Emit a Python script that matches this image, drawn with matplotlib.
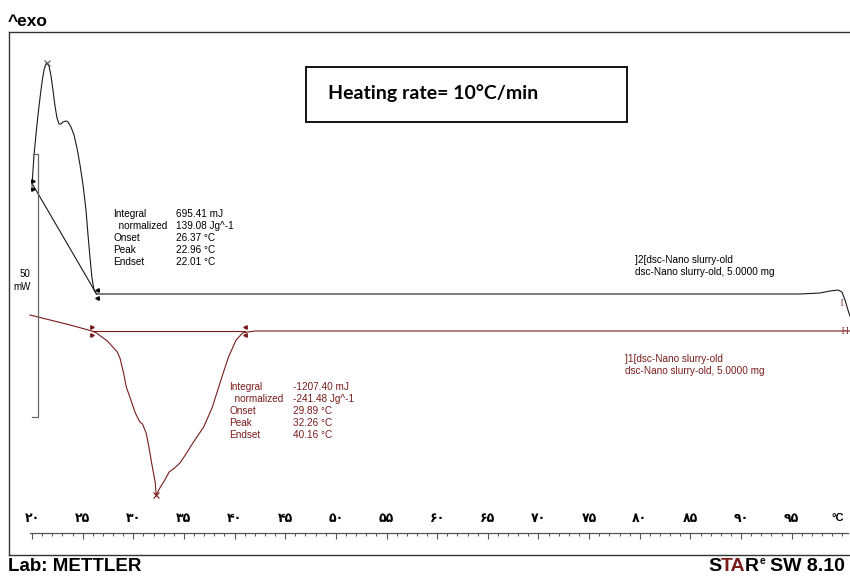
import matplotlib
matplotlib.use('Agg')
import matplotlib.pyplot as plt
from matplotlib.patches import Rectangle

# Curva 2 (negra): temperatura en °C y flujo de calor en mW
t_run2 = [20.00, 20.10, 20.20, 20.39, 20.59, 20.79, 20.99, 21.18, 21.38, 21.48,
          21.68, 21.88, 22.07, 22.27, 22.47, 22.67, 22.86, 23.06, 23.36, 23.55,
          23.85, 24.15, 24.44, 24.74, 25.04, 25.33, 25.53, 25.73, 25.92, 26.12,
          26.37, 95.81, 97.79, 98.78, 99.57, 99.96, 100.26, 100.55, 100.75]
hf_run2 = [27.67, 30.73, 33.59, 37.40, 41.22, 44.47, 47.52, 49.81, 50.95, 51.15,
           50.57, 48.66, 45.99, 42.94, 40.65, 39.50, 39.50, 39.89, 40.08, 39.89,
           38.93, 37.40, 34.92, 31.68, 27.86, 23.09, 18.32, 13.93, 10.11, 7.82,
           7.06, 7.06, 7.25, 7.63, 7.82, 7.44, 5.92, 4.01, 2.86]

# Curva 1 (roja)
t_run1 = [19.80, 21.78, 23.75, 25.92, 26.37, 26.90, 27.44, 27.97, 28.42, 28.68,
          29.04, 29.31, 29.76, 30.20, 30.65, 30.91, 31.27, 31.54, 31.81, 32.16,
          32.26, 32.68, 33.00, 33.54, 34.07, 34.60, 35.14, 35.88, 36.95, 37.81,
          38.65, 39.40, 40.15, 40.79, 41.32, 42.00, 100.75]
hf_run1 = [3.05, 2.10, 1.15, 0.00, -0.38, -1.15, -1.91, -3.05, -4.01, -5.15,
           -8.02, -10.69, -13.17, -15.65, -17.37, -17.75, -19.47, -22.14, -25.19, -28.82,
           -31.30, -29.77, -28.82, -26.91, -26.15, -25.19, -23.66, -21.37, -18.32, -14.50,
           -9.35, -4.96, -1.72, -0.38, -0.19, 0.00, 0.00]

# Límites de integración y picos
lim_run2 = [(20.10, 27.86), (26.37, 7.06)]
peak_run2 = (21.48, 51.15)
lim_run1 = [(25.92, 0.0), (41.03, 0.0)]
peak_run1 = (32.26, -31.30)

# Eje de temperatura
ticks_major = [20, 25, 30, 35, 40, 45, 50, 55, 60, 65, 70, 75, 80, 85, 90, 95]
tick_labels = ['۲۰', '۲۵', '۳۰', '۳۵', '۴۰', '۴۵', '۵۰', '۵۵', '۶۰', '۶۵',
               '۷۰', '۷۵', '۸۰', '۸۵', '۹۰', '۹۵']
ticks_minor = list(range(20, 101))

res_run2 = [('Integral', '695.41 mJ'), ('  normalized', '139.08 Jg^-1'),
            ('Onset', '26.37 °C'), ('Peak', '22.96 °C'), ('Endset', '22.01 °C')]
res_run1 = [('Integral', '-1207.40 mJ'), ('  normalized', '-241.48 Jg^-1'),
            ('Onset', '29.89 °C'), ('Peak', '32.26 °C'), ('Endset', '40.16 °C')]

W, H = 850, 576
RED = '#7a1c1c'
plt.rcParams['font.family'] = ['Liberation Sans', 'DejaVu Sans']


def fx(px):
    return px / W


def fy(py):
    return 1 - py / H


fig = plt.figure(figsize=(8.5, 5.76), dpi=100)
pos = [fx(9), fy(555), fx(852) - fx(9), fy(32) - fy(555)]

# Marco exterior
frame = fig.add_axes(pos)
frame.set_xticks([])
frame.set_yticks([])
frame.spines['right'].set_visible(False)
for s in ['left', 'top', 'bottom']:
    frame.spines[s].set_linewidth(1.0)
    frame.spines[s].set_color('#333333')

ax = fig.add_axes(pos)
ax.patch.set_alpha(0)
ax.set_xlim(17.73, 100.95)
ax.set_ylim(-42.75, 57.06)
for s in ['left', 'right', 'bottom']:
    ax.spines[s].set_visible(False)
y_axis = -38.55
ax.spines['top'].set_position(('data', y_axis))
ax.spines['top'].set_bounds(19.8, 100.55)
ax.spines['top'].set_color('#555555')
ax.spines['top'].set_linewidth(0.9)
ax.xaxis.set_ticks_position('top')
ax.set_xticks(ticks_major)
ax.set_xticklabels(tick_labels, fontsize=9, fontweight='bold', family='DejaVu Sans')
ax.set_xticks(ticks_minor, minor=True)
ax.tick_params(axis='x', which='major', direction='in', length=4, width=0.8,
               color='#555555', pad=6, labeltop=True, labelbottom=False)
ax.tick_params(axis='x', which='minor', direction='in', length=2.5, width=0.7,
               color='#555555')
ax.set_yticks([])
ax.text(99.57, y_axis + 2.9, '°C', fontsize=8, fontweight='bold',
        ha='center', va='center')

# Curvas
ax.plot(t_run2, hf_run2, color='#1a1a1a', lw=0.8)
ax.plot(t_run1, hf_run1, color=RED, lw=0.8)

# Líneas base de integración
ax.plot([p[0] for p in lim_run2], [p[1] for p in lim_run2], color='#1a1a1a', lw=0.8)
ax.plot([p[0] for p in lim_run1], [p[1] for p in lim_run1], color=RED, lw=0.8)

# Marcas de límites
for (x, y), m in zip(lim_run2, ['>', '<']):
    ax.plot([x, x], [y + 0.7, y - 0.8], ls='none', marker=m, ms=2.5, color='k')
for (x, y), m in zip(lim_run1, ['>', '<']):
    ax.plot([x, x], [y + 0.8, y - 0.8], ls='none', marker=m, ms=2.5, color=RED)
ax.plot(*peak_run2, marker='x', ms=4, color='#555555', mew=0.8)
ax.plot(*peak_run1, marker='x', ms=4, color=RED, mew=0.8)
ax.text(99.9, 5.5, '[', fontsize=6, color=RED, ha='center', va='center')
ax.text(100.3, 0, '[-]', fontsize=6, color=RED, ha='center', va='center')

# Barra de escala 50 mW
ax.plot([20.10, 20.59, 20.59, 20.00], [33.78, 33.78, -16.41, -16.41],
        color='#666666', lw=0.9)
fig.text(fx(30), fy(274), '50', fontsize=7, ha='right', va='center')
fig.text(fx(31), fy(287), 'mW', fontsize=7, ha='right', va='center')

# Resultados de integración
for i, (k, v) in enumerate(res_run2):
    fig.text(fx(113), fy(214 + 12 * i), k, fontsize=7.2, va='center')
    fig.text(fx(176), fy(214 + 12 * i), v, fontsize=7.2, va='center')
for i, (k, v) in enumerate(res_run1):
    fig.text(fx(229), fy(387 + 12 * i), k, fontsize=7.2, va='center', color=RED)
    fig.text(fx(293), fy(387 + 12 * i), v, fontsize=7.2, va='center', color=RED)

# Nombres de las muestras
fig.text(fx(635), fy(260), ']2[dsc-Nano slurry-old', fontsize=7.2, va='center')
fig.text(fx(635), fy(272), 'dsc-Nano slurry-old, 5.0000 mg', fontsize=7.2, va='center')
fig.text(fx(625), fy(359), ']1[dsc-Nano slurry-old', fontsize=7.2, va='center', color=RED)
fig.text(fx(625), fy(371), 'dsc-Nano slurry-old, 5.0000 mg', fontsize=7.2, va='center', color=RED)

# Cuadro de velocidad de calentamiento
fig.add_artist(Rectangle((fx(306), fy(122)), fx(627) - fx(306), fy(67) - fy(122),
                         transform=fig.transFigure, fill=False, lw=1.3, ec='black'))
fig.text(fx(328), fy(93), 'Heating rate= 10°C/min', fontsize=14, fontweight='bold',
         family='Lato', va='center')

# Encabezado y pie
fig.text(fx(8), fy(21), '^exo', fontsize=12.5, fontweight='bold', va='center')
fig.text(fx(8), fy(571), 'Lab: METTLER', fontsize=13.5, fontweight='bold', va='baseline')

# "STARe SW 8.10": cada trozo se coloca a continuación del anterior
renderer = fig.canvas.get_renderer()
x = 708
for s, c, size, dy, gap in [('S', 'black', 14, 0, 0), ('TA', RED, 14, 0, 0),
                            ('R', 'black', 14, 0, -1), ('e', 'black', 7.5, 7, 1),
                            ('SW 8.10', 'black', 14, 0, 5)]:
    x += gap
    t = fig.text(fx(x), fy(571 - dy), s, fontsize=size, fontweight='bold',
                 va='baseline', color=c)
    x = t.get_window_extent(renderer).x1

fig.savefig('out.png', dpi=100)
